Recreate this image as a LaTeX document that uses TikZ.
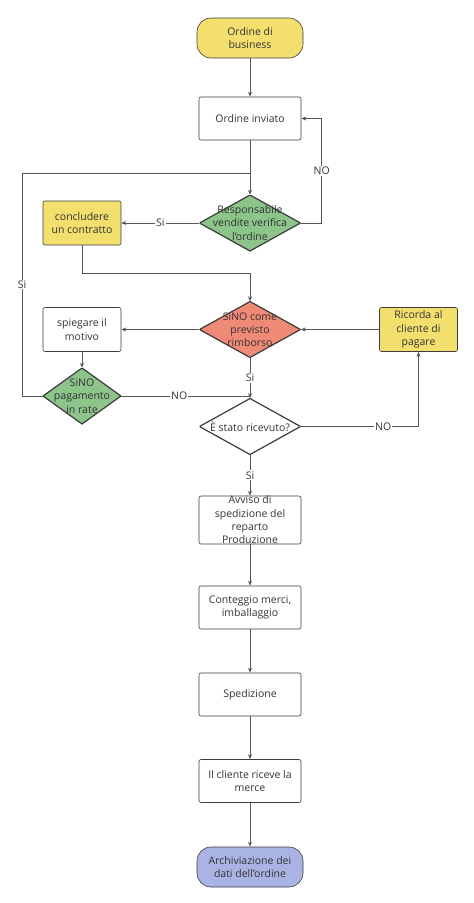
\documentclass[tikz,border=0pt]{standalone}
\usepackage{fontspec}
\setmainfont{Open Sans}
\usetikzlibrary{arrows.meta}
\definecolor{giallo}{HTML}{F3DF6E}
\definecolor{verde}{HTML}{8CC48A}
\definecolor{salmone}{HTML}{EE8A76}
\definecolor{lilla}{HTML}{AAB4E4}
\definecolor{bordo}{HTML}{3C3C3C}
\definecolor{linea}{HTML}{555555}
\tikzset{
  every node/.style={font=\fontsize{10.5}{13.3}\selectfont, text=black!80, align=center},
  box/.style={draw=bordo, rounded corners=2pt, minimum width=102pt, minimum height=43pt, inner sep=0pt, line width=0.6pt},
  sbox/.style={box, minimum width=78pt, minimum height=44pt},
  term/.style={draw=bordo, rounded corners=14pt, minimum width=106pt, minimum height=40pt, inner sep=0pt, line width=0.6pt},
  rombo/.style={minimum width=101pt, minimum height=56pt, inner sep=0pt,
    path picture={\fill[#1, draw=bordo, line width=1.2pt] (path picture bounding box.north) -- (path picture bounding box.east) -- (path picture bounding box.south) -- (path picture bounding box.west) -- cycle;}},
  filo/.style={draw=linea, line width=0.6pt},
  freccia/.style={filo, -{Stealth[length=5pt,width=4pt]}},
  etichetta/.style={fill=white, inner sep=1pt}
}
\begin{document}
\begin{tikzpicture}[x=1pt,y=-1pt]
  \useasboundingbox (0,0) rectangle (474,903);

  % colonna centrale
  \node[term,fill=giallo] (inizio) at (250,38) {Ordine di\\business};
  \node[box,below of=inizio,node distance=80.5pt] (inviato) {Ordine inviato};
  \node[rombo=verde,below of=inviato,node distance=104.5pt] (verifica) {Responsabile\\vendite verifica\\l'ordine};
  \node[rombo=salmone,below of=verifica,node distance=106.5pt] (rimborso) {SiNO come\\previsto\\rimborso};
  \node[rombo=white,below of=rimborso,node distance=97pt] (ricevuto) {È stato ricevuto?};
  \node[box,below of=ricevuto,node distance=93.5pt] (avviso) {Avviso di\\spedizione del\\reparto\\Produzione};
  \node[box,below of=avviso,node distance=87.5pt] (conteggio) {Conteggio merci,\\imballaggio};
  \node[box,below of=conteggio,node distance=87pt] (spedizione) {Spedizione};
  \node[box,below of=spedizione,node distance=86.5pt] (riceve) {Il cliente riceve la\\merce};
  \node[term,fill=lilla,below of=riceve,node distance=86pt] (archivio) {Archiviazione dei\\dati dell'ordine};

  % lati
  \node[sbox,fill=giallo,left of=verifica,node distance=168pt] (contratto) {concludere\\un contratto};
  \node[sbox,left of=rimborso,node distance=168pt] (motivo) {spiegare il\\motivo};
  \node[sbox,fill=giallo,right of=rimborso,node distance=168.5pt] (ricorda) {Ricorda al\\cliente di\\pagare};
  \node[rombo=verde,minimum width=78pt,below of=motivo,node distance=66.5pt] (rate) {SiNO\\pagamento\\in rate};
  \coordinate (ritorno) at (22,173);

  \draw[freccia] (inizio) -- (inviato);
  \draw[freccia] (inviato) -- (verifica);
  \draw[freccia] (verifica.east) -- ++(21pt,0) |- node[etichetta,pos=0.25] {NO} (inviato.east);
  \draw[freccia] (verifica.west) -- node[etichetta] {Si} (contratto.east);
  \draw[freccia] (contratto.south) -- ++(0,-28pt) -| (rimborso.north);
  \draw[freccia] (rimborso.west) -- (motivo.east);
  \draw[freccia] (ricorda.west) -- (rimborso.east);
  \draw[freccia] (motivo.south) -- (rate.north);
  \draw[filo] (rate.west) -| node[etichetta,pos=0.75] {Si} (ritorno) -- (ritorno -| verifica.north);
  \draw[filo] (rate.east) -- node[etichetta,pos=0.45] {NO} (rate.east -| ricevuto.north);
  \draw[freccia] (rimborso.south) -- node[etichetta] {Si} (ricevuto.north);
  \draw[freccia] (ricevuto.east) -| node[etichetta,pos=0.35] {NO} (ricorda.south);
  \draw[freccia] (ricevuto.south) -- node[etichetta] {Si} (avviso.north);
  \draw[freccia] (avviso) -- (conteggio);
  \draw[freccia] (conteggio) -- (spedizione);
  \draw[freccia] (spedizione) -- (riceve);
  \draw[freccia] (riceve) -- (archivio);
\end{tikzpicture}
\end{document}
